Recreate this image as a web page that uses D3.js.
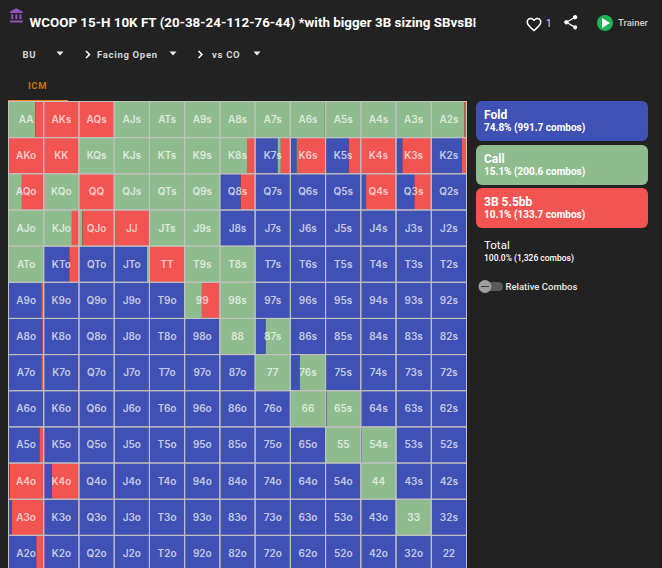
<!DOCTYPE html>
<html>
<head>
<meta charset="utf-8">
<script src="https://cdn.jsdelivr.net/npm/d3@7"></script>
<style>
  html, body { margin: 0; padding: 0; background: #222222; overflow: hidden; }
  svg { display: block; font-family: Roboto, sans-serif; }
</style>
</head>
<body>
<script>
var ranks = ["A","K","Q","J","T","9","8","7","6","5","4","3","2"]

// percent of combos for each hand (row = first rank)
var foldPct = [
  [0,0,0,0,0,0,0,0,0,0,0,0,0],
  [0,0,0,0,0,0,0,64,18,66,0,18,87],
  [0,0,0,0,0,0,59,99,100,99,15,52,99],
  [0,0,0,0,0,0,99,100,100,100,100,100,100],
  [0,72,98,93,0,0,0,100,100,100,100,100,100],
  [93,100,100,100,100,0,0,100,100,100,100,100,100],
  [96,100,100,100,100,100,0,30,100,100,100,100,100],
  [93,97,100,100,100,100,100,0,27,100,100,100,100],
  [100,97,100,100,100,100,100,100,0,3,100,100,100],
  [88,100,100,100,100,100,100,100,100,0,3,100,100],
  [4,23,97,100,100,100,100,100,100,100,0,100,100],
  [10,97,100,100,100,100,100,100,100,100,100,0,100],
  [79,100,100,100,100,100,100,100,100,100,100,100,100]
]
var callPct = [
  [76,0,2,100,100,100,100,100,98,100,100,100,94],
  [0,0,100,100,100,100,79,9,3,0,0,0,0],
  [38,100,0,100,100,100,0,0,0,0,0,0,0],
  [100,80,10,0,100,100,1,0,0,0,0,0,0],
  [100,1,0,7,0,100,100,0,0,0,0,0,0],
  [0,0,0,0,0,49,100,0,0,0,0,0,0],
  [0,0,0,0,0,0,100,70,0,0,0,0,0],
  [0,0,0,0,0,0,0,100,73,0,0,0,0],
  [0,0,0,0,0,0,0,0,100,96,0,0,0],
  [0,0,0,0,0,0,0,0,0,100,97,0,0],
  [0,0,0,0,0,0,0,0,0,0,100,0,0],
  [0,0,0,0,0,0,0,0,0,0,0,100,0],
  [0,0,0,0,0,0,0,0,0,0,0,0,0]
]
var raisePct = [
  [24,100,98,0,0,0,0,0,2,0,0,0,6],
  [100,100,0,0,0,0,21,27,79,33,100,82,13],
  [62,0,100,0,0,0,41,1,0,0,85,48,1],
  [0,20,90,100,0,0,0,0,0,0,0,0,0],
  [0,27,2,0,100,0,0,0,0,0,0,0,0],
  [7,0,0,0,0,51,0,0,0,0,0,0,0],
  [4,0,0,0,0,0,0,0,0,0,0,0,0],
  [7,3,0,0,0,0,0,0,0,0,0,0,0],
  [0,3,0,0,0,0,0,0,0,0,0,0,0],
  [12,0,0,0,0,0,0,0,0,0,0,0,0],
  [96,77,3,0,0,0,0,0,0,0,0,0,0],
  [90,3,0,0,0,0,0,0,0,0,0,0,0],
  [21,0,0,0,0,0,0,0,0,0,0,0,0]
]

var actions = ["fold", "call", "raise"]
var actionNames = ["Fold", "Call", "3B 5.5bb"]
var actionStats = ["74.8% (991.7 combos)", "15.1% (200.6 combos)", "10.1% (133.7 combos)"]
var actionColors = ["#3f51b5", "#8fbc8f", "#f25551"]
var crumbs = ["BU", "Facing Open", "vs CO"]

var width = 662, height = 568

var svg = d3.select("body").append("svg")
  .attr("width", width)
  .attr("height", height)

var escalaColor = d3.scaleOrdinal().domain(actions).range(actionColors)
var escalaX = d3.scaleBand().domain(ranks).range([8.5, 466.5])
var escalaY = d3.scaleBand().domain(ranks).range([101.5, 571.5])
var escalaFrac = d3.scaleLinear().domain([0, 100]).range([0, escalaX.bandwidth()])

function handName(i, j) {
  if (i == j) return ranks[i] + ranks[j]
  return i < j ? ranks[i] + ranks[j] + "s" : ranks[j] + ranks[i] + "o"
}

var celdas = []
ranks.forEach(function(r, i) {
  ranks.forEach(function(c, j) {
    celdas.push({row: r, col: c, hand: handName(i, j), fold: foldPct[i][j], call: callPct[i][j], raise: raisePct[i][j]})
  })
})

var stack = d3.stack().keys(actions)

// PINTAR LA MATRIZ
var series = svg.append("g").selectAll("g")
  .data(stack(celdas))
  .enter().append("g")
  .attr("fill", d => escalaColor(d.key))

series.selectAll("rect")
  .data(d => d)
  .enter().append("rect")
  .attr("x", d => escalaX(d.data.col) + escalaFrac(d[0]))
  .attr("y", d => escalaY(d.data.row))
  .attr("width", d => escalaFrac(d[1] - d[0]))
  .attr("height", escalaY.bandwidth())

svg.append("g").selectAll("rect")
  .data(celdas)
  .enter().append("rect")
  .attr("x", d => escalaX(d.col))
  .attr("y", d => escalaY(d.row))
  .attr("width", escalaX.bandwidth())
  .attr("height", escalaY.bandwidth())
  .attr("fill", "none")
  .attr("stroke", "#c2c2c2")
  .attr("stroke-width", 1)

svg.append("g").selectAll("text")
  .data(celdas)
  .enter().append("text")
  .attr("x", d => escalaX(d.col) + escalaX.bandwidth() / 2)
  .attr("y", d => escalaY(d.row) + escalaY.bandwidth() / 2 + 3.5)
  .attr("text-anchor", "middle")
  .attr("font-family", "Inter")
  .attr("font-size", 10)
  .attr("font-weight", 600)
  .attr("fill", "#fff")
  .attr("fill-opacity", 0.7)
  .text(d => d.hand)

// PANEL DE LA DERECHA
var cajas = [101, 145, 188]
var panel = svg.append("g").selectAll("g")
  .data(actions)
  .enter().append("g")
  .attr("transform", (d, i) => "translate(476," + cajas[i] + ")")

panel.append("rect")
  .attr("width", 172)
  .attr("height", 40)
  .attr("rx", 6)
  .attr("fill", d => escalaColor(d))

panel.append("text")
  .attr("x", 8)
  .attr("y", 18)
  .attr("font-size", 12)
  .attr("font-weight", 700)
  .attr("fill", "#fff")
  .text((d, i) => actionNames[i])

panel.append("text")
  .attr("x", 8)
  .attr("y", 30)
  .attr("font-size", 10)
  .attr("font-weight", 700)
  .attr("fill", "#fff")
  .text((d, i) => actionStats[i])

svg.append("text").attr("x", 484).attr("y", 249)
  .attr("font-size", 11.5).attr("font-weight", 400).attr("fill", "#fff").text("Total")
svg.append("text").attr("x", 484).attr("y", 261)
  .attr("font-size", 8.5).attr("font-weight", 500).attr("fill", "#fff").text("100.0% (1,326 combos)")

svg.append("rect").attr("x", 479).attr("y", 282).attr("width", 24).attr("height", 9)
  .attr("rx", 4.5).attr("fill", "#5a5a5a")
svg.append("circle").attr("cx", 485).attr("cy", 286.5).attr("r", 6.5).attr("fill", "#9e9e9e")
svg.append("rect").attr("x", 481).attr("y", 286).attr("width", 8).attr("height", 1).attr("fill", "#333")
svg.append("text").attr("x", 505.5).attr("y", 290)
  .attr("font-size", 9.5).attr("font-weight", 500).attr("fill", "#e8e8e8").text("Relative Combos")

// CABECERA
svg.append("clipPath").attr("id", "clipTitulo")
  .append("rect").attr("x", 0).attr("y", 0).attr("width", 475.5).attr("height", 40)
svg.append("text").attr("x", 29.5).attr("y", 27)
  .attr("clip-path", "url(#clipTitulo)")
  .attr("font-size", 13.38).attr("font-weight", 700).attr("fill", "#fff")
  .text("WCOOP 15-H 10K FT (20-38-24-112-76-44) *with bigger 3B sizing SBvsBB")

svg.append("path")
  .attr("d", "M4 10v7h3v-7H4zm6 0v7h3v-7h-3zM2 22h19v-3H2v3zm14-12v7h3v-7h-3zm-4.5-9L2 6v2h19V6l-9.5-5z")
  .attr("transform", "translate(8.5,7.5) scale(0.68)")
  .attr("fill", "#8e52b8")

svg.append("path")
  .attr("d", "M16.5 3c-1.74 0-3.41.81-4.5 2.09C10.91 3.81 9.24 3 7.5 3 4.42 3 2 5.42 2 8.5c0 3.78 3.4 6.86 8.55 11.54L12 21.35l1.45-1.32C18.6 15.36 22 12.28 22 8.5 22 5.42 19.58 3 16.5 3zm-4.4 15.55l-.1.1-.1-.1C7.14 14.24 4 11.39 4 8.5 4 6.5 5.5 5 7.5 5c1.54 0 3.04.99 3.57 2.36h1.87C13.46 5.99 14.96 5 16.5 5c2 0 3.5 1.5 3.5 3.5 0 2.89-3.14 5.74-7.9 10.05z")
  .attr("transform", "translate(525,15.5) scale(0.75)")
  .attr("fill", "#fff")
svg.append("text").attr("x", 546).attr("y", 27).attr("font-size", 10).attr("fill", "#ddd").text("1")

svg.append("path")
  .attr("d", "M18 16.08c-.76 0-1.44.3-1.96.77L8.91 12.7c.05-.23.09-.46.09-.7s-.04-.47-.09-.7l7.05-4.11c.54.5 1.25.81 2.04.81 1.66 0 3-1.34 3-3s-1.34-3-3-3-3 1.34-3 3c0 .24.04.47.09.7L8.04 9.81C7.5 9.31 6.79 9 6 9c-1.66 0-3 1.34-3 3s1.34 3 3 3c.79 0 1.5-.31 2.04-.81l7.12 4.16c-.05.21-.08.43-.08.65 0 1.61 1.31 2.92 2.92 2.92 1.61 0 2.92-1.31 2.92-2.92s-1.31-2.92-2.92-2.92z")
  .attr("transform", "translate(562,13.5) scale(0.73)")
  .attr("fill", "#fff")

svg.append("circle").attr("cx", 605).attr("cy", 23).attr("r", 8).attr("fill", "#1fb355")
svg.append("path").attr("d", "M602 18 L610 23 L602 28 Z").attr("fill", "#fff")
svg.append("text").attr("x", 618).attr("y", 26).attr("font-size", 9.5).attr("font-weight", 500)
  .attr("fill", "#cfcfcf").text("Trainer")

// MIGAS DE PAN
var crumbX = [22.5, 97, 212]
var arrowX = [60, 173, 257]
var chevronX = [87.5, 200]

svg.append("g").selectAll("text")
  .data(crumbs)
  .enter().append("text")
  .attr("x", (d, i) => crumbX[i])
  .attr("y", 57.5)
  .attr("font-size", 9.5)
  .attr("font-weight", 700)
  .attr("letter-spacing", 0.7)
  .attr("fill", "#d8d8d8")
  .text(d => d)

svg.append("g").selectAll("path")
  .data(arrowX)
  .enter().append("path")
  .attr("d", d => "M" + (d - 3.5) + " 51.5 h7 l-3.5 4 z")
  .attr("fill", "#eee")

svg.append("g").selectAll("path")
  .data(chevronX)
  .enter().append("path")
  .attr("d", d => "M" + (d - 1.5) + " 51 l3.5 3.5 l-3.5 3.5")
  .attr("fill", "none")
  .attr("stroke", "#fff")
  .attr("stroke-width", 1.5)

// PESTAÑA ICM
svg.append("text").attr("x", 37.5).attr("y", 89).attr("text-anchor", "middle")
  .attr("font-size", 9.5).attr("font-weight", 700).attr("letter-spacing", 0.6)
  .attr("fill", "#c9720f").text("ICM")
svg.append("rect").attr("x", 8).attr("y", 100).attr("width", 60).attr("height", 1).attr("fill", "#e8821e")

svg.append("rect").attr("x", 659).attr("y", 0).attr("width", 3).attr("height", height).attr("fill", "#1e1e1e")
</script>
</body>
</html>
